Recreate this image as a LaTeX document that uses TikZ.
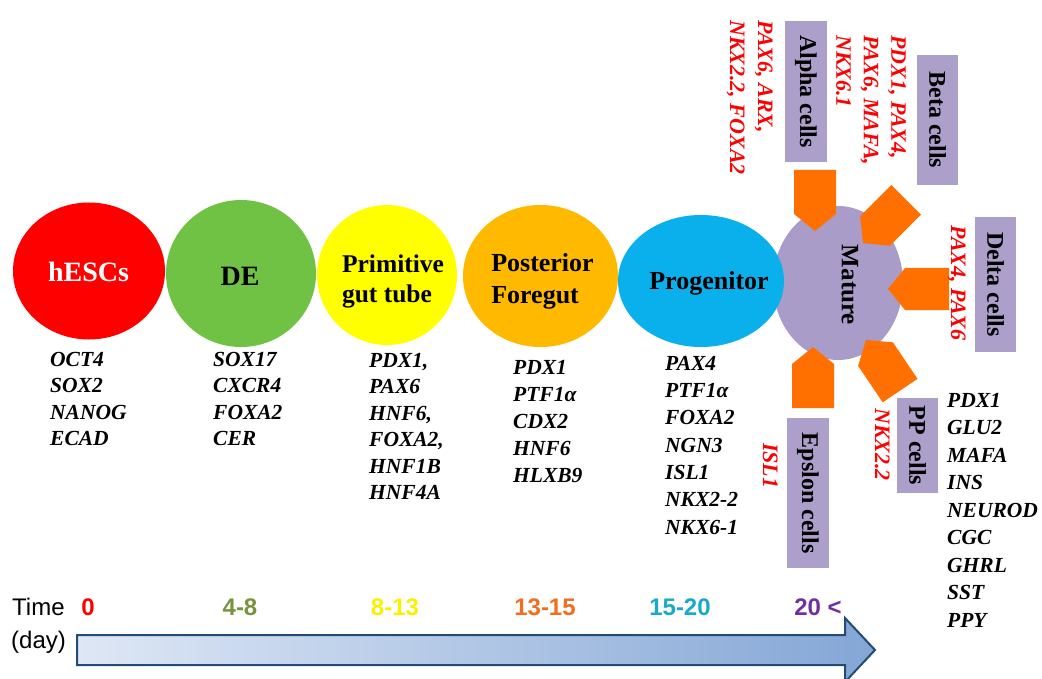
\documentclass[tikz,border=0pt]{standalone}
\usepackage{fontspec}
\setmainfont{Liberation Serif}
\newfontfamily\arialf{Liberation Sans}
\usetikzlibrary{shapes.geometric}
\definecolor{cRed}{RGB}{255,0,0}
\definecolor{cGreen}{RGB}{112,194,68}
\definecolor{cYellow}{RGB}{255,255,0}
\definecolor{cOrange}{RGB}{255,186,0}
\definecolor{cBlue}{RGB}{10,176,236}
\definecolor{cPurple}{RGB}{170,156,200}
\definecolor{boxPurple}{RGB}{172,160,202}
\definecolor{pentOrange}{RGB}{255,112,0}
\definecolor{tGreen}{RGB}{119,147,60}
\definecolor{tYellow}{RGB}{250,240,0}
\definecolor{tOrange}{RGB}{240,110,30}
\definecolor{tCyan}{RGB}{25,170,200}
\definecolor{tPurple}{RGB}{112,48,160}
\definecolor{arrL}{RGB}{222,231,245}
\definecolor{arrR}{RGB}{132,166,214}
\definecolor{arrB}{RGB}{35,75,115}
\begin{document}
\begin{tikzpicture}[x=1pt,y=-1pt,
  stage/.style={ellipse, inner sep=0pt, draw=none},
  lbl/.style={font=\bfseries\fontsize{26}{32}\selectfont, align=left, inner sep=0pt},
  gene/.style={font=\bfseries\itshape\fontsize{21.5}{26.5}\selectfont, align=left, inner sep=0pt, anchor=north west},
  redg/.style={text=cRed, font=\bfseries\itshape\fontsize{22}{28}\selectfont, align=left, inner sep=0pt, rotate=-90, anchor=north west},
  cellbox/.style={fill=boxPurple, rotate=-90, inner sep=0pt, font=\bfseries\fontsize{24}{26}\selectfont},
  pent/.style={fill=pentOrange},
  tnum/.style={font=\arialf\bfseries\fontsize{24}{26}\selectfont, inner sep=0pt}]
\useasboundingbox (0,0) rectangle (1042,679);
\clip (0,0) rectangle (1042,679);
\fill[white] (0,0) rectangle (1042,679);

% stages
\node[stage, fill=cPurple, minimum width=130pt, minimum height=154pt] (mature) at (838,283) {};
\node[stage, fill=cBlue, minimum width=166pt, minimum height=132pt] (prog) at (701,281) {};
\node[stage, fill=cOrange, minimum width=155pt, minimum height=142pt] (post) at (540.5,276) {};
\node[stage, fill=cYellow, minimum width=140pt, minimum height=140pt] (prim) at (387,275) {};
\node[stage, fill=cGreen, minimum width=150pt, minimum height=147pt] (de) at (241,273.5) {};
\node[stage, fill=cRed, minimum width=152pt, minimum height=137pt] (hesc) at (89,271) {};

% stage labels
\node[lbl, text=white, font=\bfseries\fontsize{28}{30}\selectfont] (hescT) at (88.5,271.5) {hESCs};
\node[lbl, font=\bfseries\fontsize{28}{30}\selectfont] (deT) at (240,276) {DE};
\node[lbl, font=\bfseries\fontsize{25.5}{30}\selectfont] (primT) at (393,281.5) {Primitive\\gut tube};
\node[lbl] (postT) at (542.5,281.5) {Posterior\\Foregut};
\node[lbl] (progT) at (709,283.5) {Progenitor};
\node[lbl, rotate=-90, font=\bfseries\fontsize{25}{27}\selectfont] (matT) at (850,285) {Mature};

% pentagon arrows toward mature
\fill[pent, shift={(815,231)}, rotate=-90] (0,0) -- (-17,-21) -- (-61,-21) -- (-61,21) -- (-17,21) -- cycle;
\fill[pent, shift={(863,243)}, rotate=225] (0,0) -- (-17,-21) -- (-61,-21) -- (-61,21) -- (-17,21) -- cycle;
\fill[pent, shift={(888,289)}, rotate=180] (0,0) -- (-17,-21) -- (-61,-21) -- (-61,21) -- (-17,21) -- cycle;
\fill[pent, shift={(866,340)}, rotate=124] (0,0) -- (-17,-21) -- (-61,-21) -- (-61,21) -- (-17,21) -- cycle;
\fill[pent, shift={(813,347)}, rotate=90] (0,0) -- (-17,-21) -- (-61,-21) -- (-61,21) -- (-17,21) -- cycle;

% cell boxes
\node[cellbox, minimum width=141pt, minimum height=42pt] (alpha) at (806,91.5) {Alpha cells};
\node[cellbox, minimum width=130pt, minimum height=41pt] (beta) at (937.5,120) {Beta cells};
\node[cellbox, minimum width=135pt, minimum height=41pt] (delta) at (995.5,284.5) {Delta cells};
\node[cellbox, minimum width=95pt, minimum height=41pt] (pp) at (917.5,445.5) {PP cells};
\node[cellbox, minimum width=150pt, minimum height=42pt] (eps) at (808,493) {Epslon cells};

% red marker texts
\node[redg] (alphaG) at (773,20) {PAX6, ARX,\\NKX2.2, FOXA2};
\node[redg, font=\bfseries\itshape\fontsize{22}{27.5}\selectfont] (betaG) at (906,35) {PDX1, PAX4,\\PAX6, MAFA,\\NKX6.1};
\node[redg] (deltaG) at (966,225) {PAX4, PAX6};
\node[redg] (ppG) at (890,408) {NKX2.2};
\node[redg] (epsG) at (778,443) {ISL1};

% gene lists
\node[gene] (hescL) at (50,352) {OCT4\\SOX2\\NANOG\\ECAD};
\node[gene] (deL) at (213,352) {SOX17\\CXCR4\\FOXA2\\CER};
\node[gene] (primL) at (369,353) {PDX1,\\PAX6\\HNF6,\\FOXA2,\\HNF1B\\HNF4A};
\node[gene, font=\bfseries\itshape\fontsize{21.5}{27}\selectfont] (postL) at (513,360) {PDX1\\PTF1α\\CDX2\\HNF6\\HLXB9};
\node[gene, font=\bfseries\itshape\fontsize{21.5}{27.3}\selectfont] (progL) at (665,356) {PAX4\\PTF1α\\FOXA2\\NGN3\\ISL1\\NKX2-2\\NKX6-1};
\node[gene, font=\bfseries\itshape\fontsize{21.5}{27.5}\selectfont] (matL) at (947,393) {PDX1\\GLU2\\MAFA\\INS\\NEUROD\\CGC\\GHRL\\SST\\PPY};

% timeline
\shade[left color=arrL, right color=arrR, draw=arrB, line width=2pt, line join=miter]
  (77,635) -- (845,635) -- (845,618) -- (875,650) -- (845,682) -- (845,665) -- (77,665) -- cycle;
\node[font=\arialf\fontsize{24}{26}\selectfont, anchor=west, inner sep=0pt] (time) at (12,607) {Time};
\node[font=\arialf\fontsize{24}{26}\selectfont, anchor=west, inner sep=0pt] (day) at (11,642) {(day)};
\node[tnum, text=cRed] (t0) at (88,607) {0};
\node[tnum, text=tGreen] (t1) at (240,607) {4-8};
\node[tnum, text=tYellow] (t2) at (395,607) {8-13};
\node[tnum, text=tOrange] (t3) at (545,607) {13-15};
\node[tnum, text=tCyan] (t4) at (680,607) {15-20};
\node[tnum, text=tPurple] (t5) at (818,607) {20 <};
\end{tikzpicture}
\end{document}
